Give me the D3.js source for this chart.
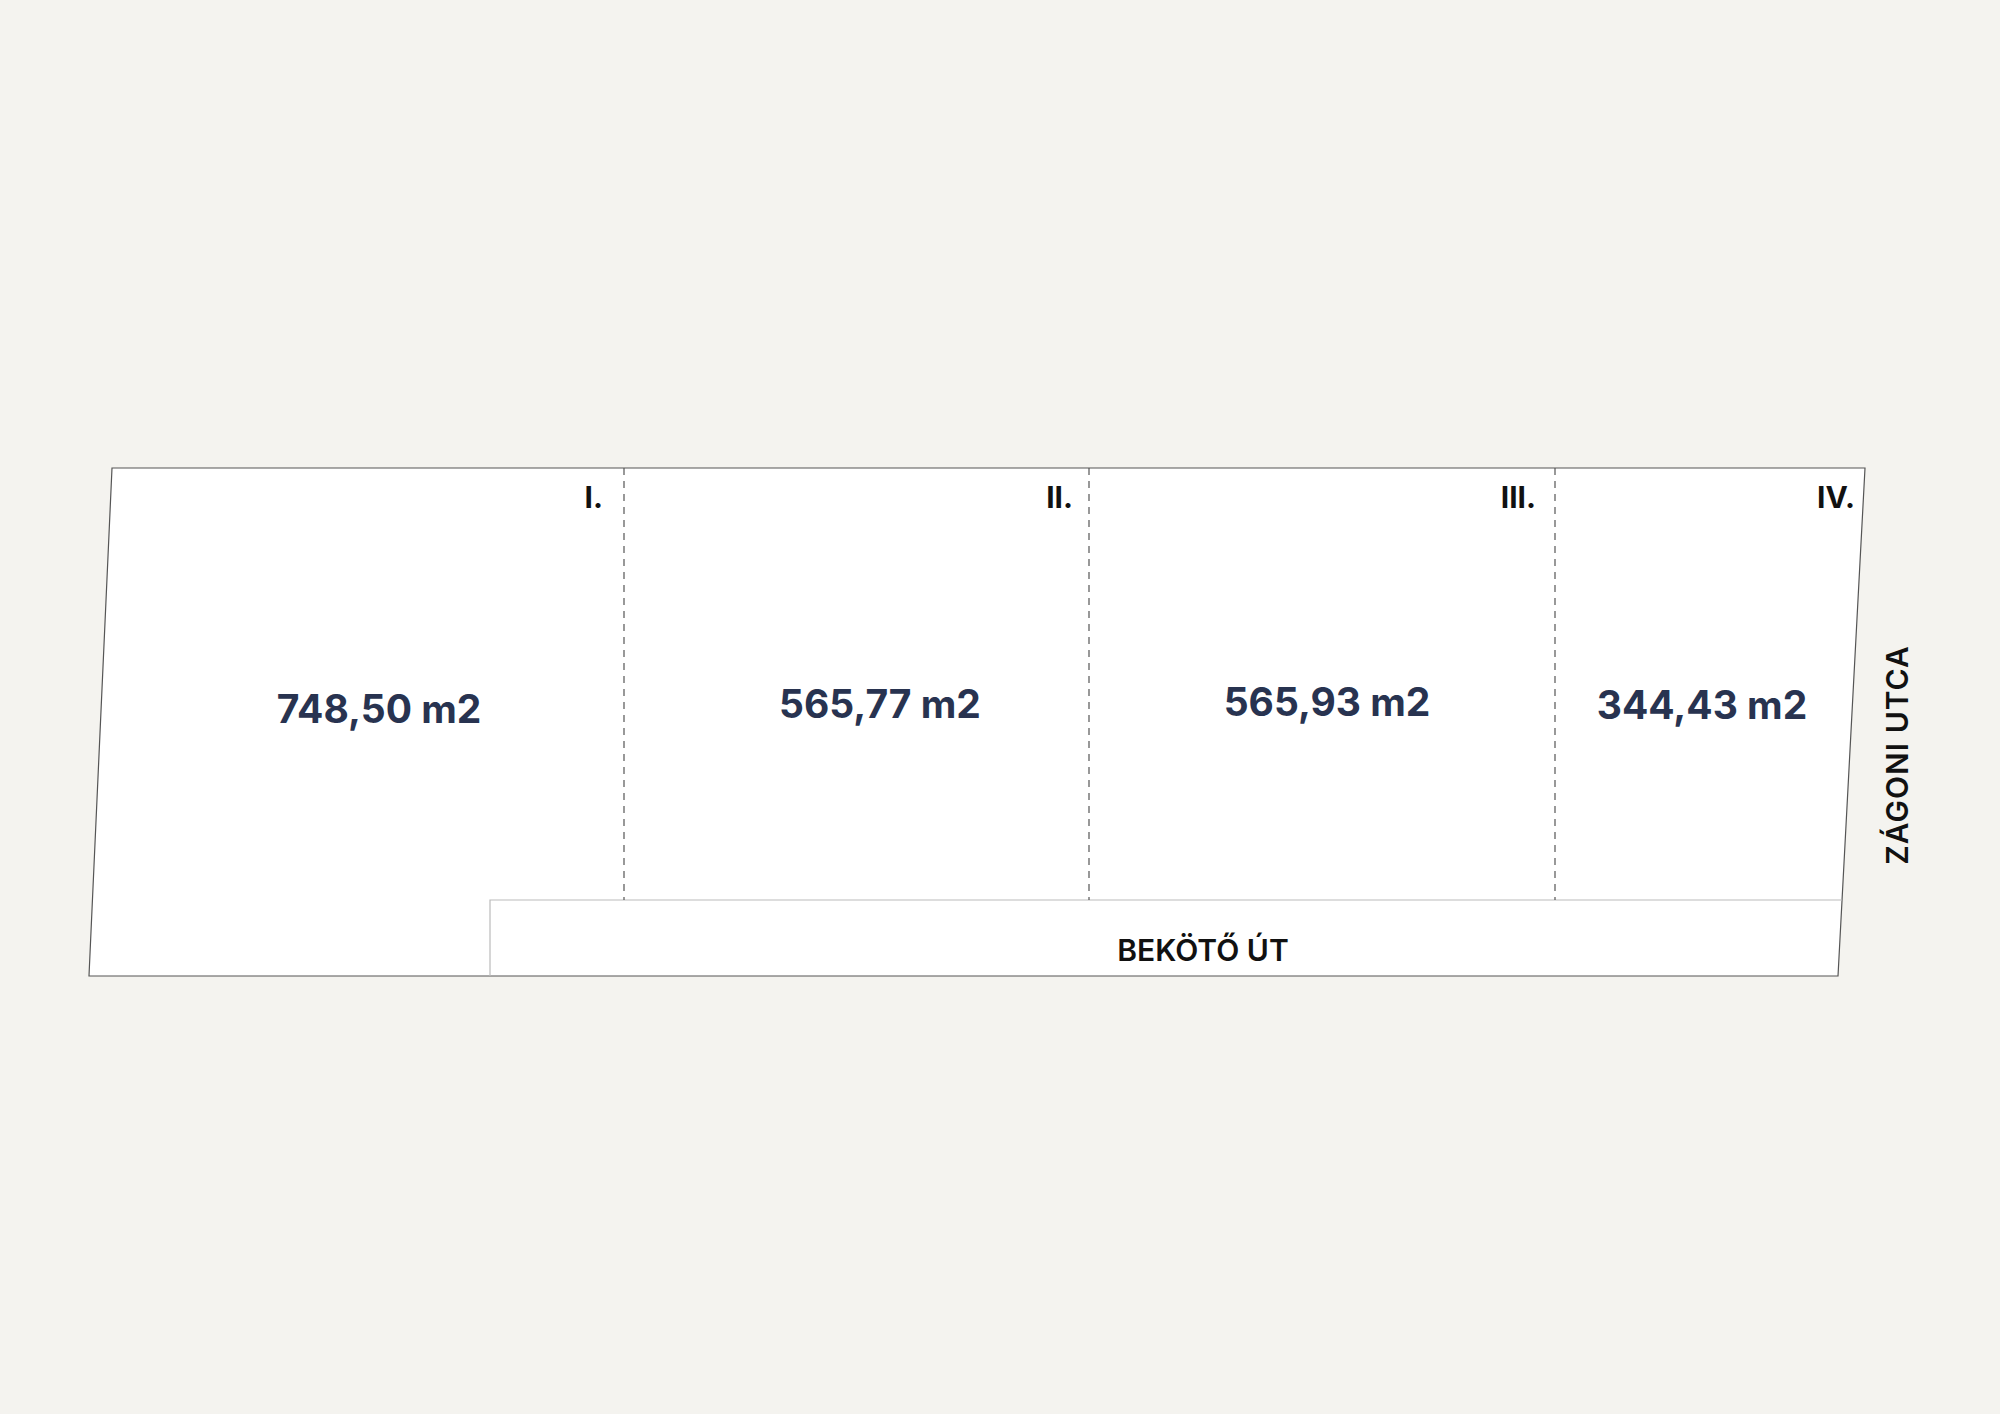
<!DOCTYPE html>
<html><head><meta charset="utf-8">
<script src="https://cdn.jsdelivr.net/npm/d3@7"></script>
<style>body{margin:0;background:#f4f3ef}svg{display:block}</style>
</head><body>
<script>
const lotLabels = ["I.", "II.", "III.", "IV."];
const lotAreas = ["748,50 m2", "565,77 m2", "565,93 m2", "344,43 m2"];
const lotBoundaries = [0, 512, 977, 1443, 1760]; // plan units along the street front
const areaLabelX = [267, 768, 1215, 1590];
const roadName = "BEKÖTŐ ÚT";
const streetName = "ZÁGONI UTCA";

const W = 2000, H = 1414;
const svg = d3.select("body").append("svg").attr("width", W).attr("height", H);
svg.append("rect").attr("width", W).attr("height", H).attr("fill", "#f4f3ef");

const x = d3.scaleLinear().domain([0, 1760]).range([112, 1872]);
const yTop = 468, yRoad = 900, yBot = 976;
const skew = 27;
const leftX = y => 112 - 23 * (y - yTop) / (yBot - yTop);
const rightX = y => 1865 - skew * (y - yTop) / (yBot - yTop);

const outline = [[leftX(yTop), yTop], [rightX(yTop), yTop], [rightX(yBot), yBot], [leftX(yBot), yBot]];
svg.append("path").attr("d", d3.line()(outline) + "Z")
  .attr("fill", "#fff").attr("stroke", "#555").attr("stroke-width", 1.2);

const roadL = 490;
svg.append("path").attr("d", d3.line()([[roadL, yBot], [roadL, yRoad], [rightX(yRoad), yRoad]]))
  .attr("fill", "none").attr("stroke", "#bbb").attr("stroke-width", 1.2);

lotBoundaries.slice(1, -1).forEach(b => {
  svg.append("line").attr("x1", x(b)).attr("x2", x(b)).attr("y1", yTop).attr("y2", yRoad)
    .attr("stroke", "#555").attr("stroke-width", 1.2).attr("stroke-dasharray", "7,6");
});

const ends = [603, 1073, 1536, 1855];
lotLabels.forEach((l, i) => {
  svg.append("text").attr("x", ends[i]).attr("y", 508).attr("text-anchor", "end")
    .attr("font-family", "Inter, sans-serif").attr("font-weight", 700).attr("font-size", 30)
    .attr("fill", "#111").text(l);
});
const areaY = [709, 704, 702, 705];
lotAreas.forEach((a, i) => {
  svg.append("text").attr("x", x(areaLabelX[i])).attr("y", areaY[i]).attr("dy", "0.36em")
    .attr("text-anchor", "middle").attr("font-family", "Inter, sans-serif").attr("font-weight", 700)
    .attr("font-size", 39).attr("fill", "#283350").text(a);
});
svg.append("text").attr("x", 1203).attr("y", 950).attr("dy", "0.36em").attr("text-anchor", "middle")
  .attr("font-family", "Inter, sans-serif").attr("font-weight", 600).attr("font-size", 30)
  .attr("fill", "#111").text(roadName);
svg.append("text").attr("transform", "translate(1897,755) rotate(-90)").attr("dy", "0.36em")
  .attr("text-anchor", "middle").attr("font-family", "Inter, sans-serif").attr("font-weight", 600)
  .attr("font-size", 30).attr("letter-spacing", 1).attr("fill", "#111").text(streetName);
</script>
</body></html>
